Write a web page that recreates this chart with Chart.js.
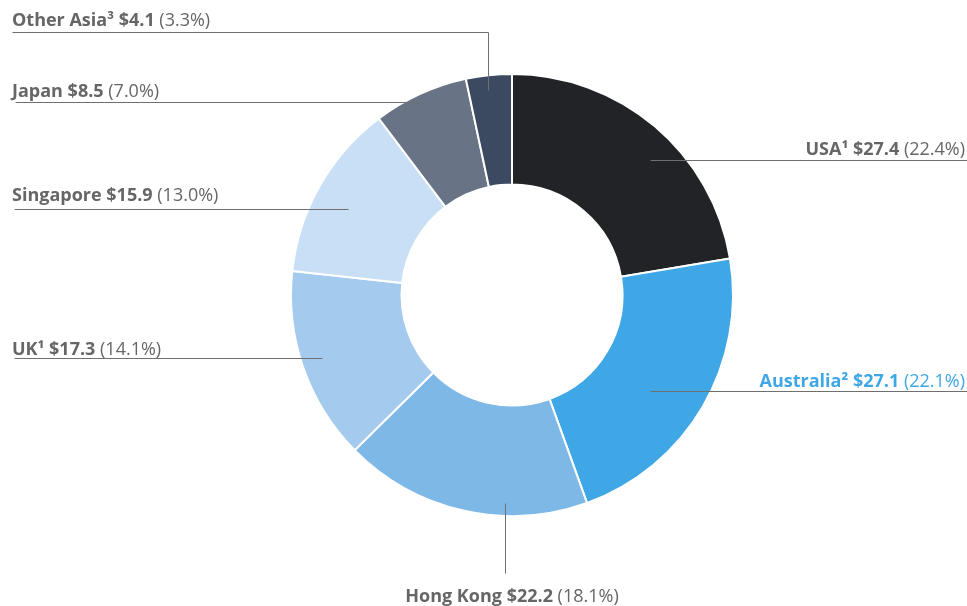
<!DOCTYPE html>
<html><head><meta charset="utf-8">
<script src="https://cdn.jsdelivr.net/npm/chart.js@4"></script>
<style>html,body{margin:0;padding:0;background:#fff}#wrap{width:967px;height:606px;position:relative}</style>
</head><body><div id="wrap"><canvas id="c"></canvas></div>
<script>
const categories = ['USA¹', 'Australia²', 'Hong Kong', 'UK¹', 'Singapore', 'Japan', 'Other Asia³'];
const values = [27.4, 27.1, 22.2, 17.3, 15.9, 8.5, 4.1];
const percents = ['22.4%', '22.1%', '18.1%', '14.1%', '13.0%', '7.0%', '3.3%'];
const colors = ['#222326', '#3fa7e6', '#7db8e6', '#a4caee', '#c9dff5', '#687385', '#3b4a60'];

// label layout (annotation placement only)
const layout = [
  {tx: 965, ty: 155, align: 'right', line: [[650,160],[967,160]], color: '#666666'},
  {tx: 965, ty: 387, align: 'right', line: [[650,391],[967,391]], color: '#3fa7e6'},
  {tx: 512, ty: 602, align: 'center', line: [[505,503],[505,573]], color: '#666666'},
  {tx: 12, ty: 355, align: 'left', line: [[14,358],[322,358]], color: '#666666'},
  {tx: 12, ty: 201, align: 'left', line: [[14,209],[348,209]], color: '#666666'},
  {tx: 12, ty: 97, align: 'left', line: [[15,102],[420,102]], color: '#666666'},
  {tx: 12, ty: 26, align: 'left', line: [[12,32],[488,32],[488,90]], color: '#666666'}
];

const FONT = '"Open Sans"';
const SIZE = 18;
const labelPlugin = {
  id: 'labels',
  afterDatasetsDraw(chart) {
    const ctx = chart.ctx;
    ctx.save();
    layout.forEach((L, i) => {
      ctx.strokeStyle = '#6f6f6f';
      ctx.lineWidth = 1;
      ctx.beginPath();
      L.line.forEach((p, j) => { const x = p[0] + 0.5, y = p[1] + 0.5; j ? ctx.lineTo(x, y) : ctx.moveTo(x, y); });
      ctx.stroke();
      const bold = categories[i] + ' $' + values[i].toFixed(1);
      const norm = ' (' + percents[i] + ')';
      ctx.font = 'bold ' + SIZE + 'px ' + FONT;
      const wb = ctx.measureText(bold).width;
      ctx.font = SIZE + 'px ' + FONT;
      const wn = ctx.measureText(norm).width;
      const w = wb + wn;
      let x0 = L.align === 'left' ? L.tx : L.align === 'right' ? L.tx - w : L.tx - w / 2;
      ctx.fillStyle = L.color;
      ctx.textBaseline = 'alphabetic';
      ctx.textAlign = 'left';
      ctx.font = 'bold ' + SIZE + 'px ' + FONT;
      ctx.fillText(bold, x0, L.ty);
      ctx.font = SIZE + 'px ' + FONT;
      ctx.fillText(norm, x0 + wb, L.ty);
    });
    ctx.restore();
  }
};

new Chart(document.getElementById('c'), {
  type: 'doughnut',
  data: { labels: categories, datasets: [{ data: values, backgroundColor: colors, borderColor: '#ffffff', borderWidth: 2 }] },
  options: {
    responsive: true, maintainAspectRatio: false, animation: false,
    cutout: '50%',
    layout: { padding: { top: 73, bottom: 89, left: 290, right: 233 } },
    plugins: { legend: { display: false }, tooltip: { enabled: false } }
  },
  plugins: [labelPlugin]
});
</script></body></html>
